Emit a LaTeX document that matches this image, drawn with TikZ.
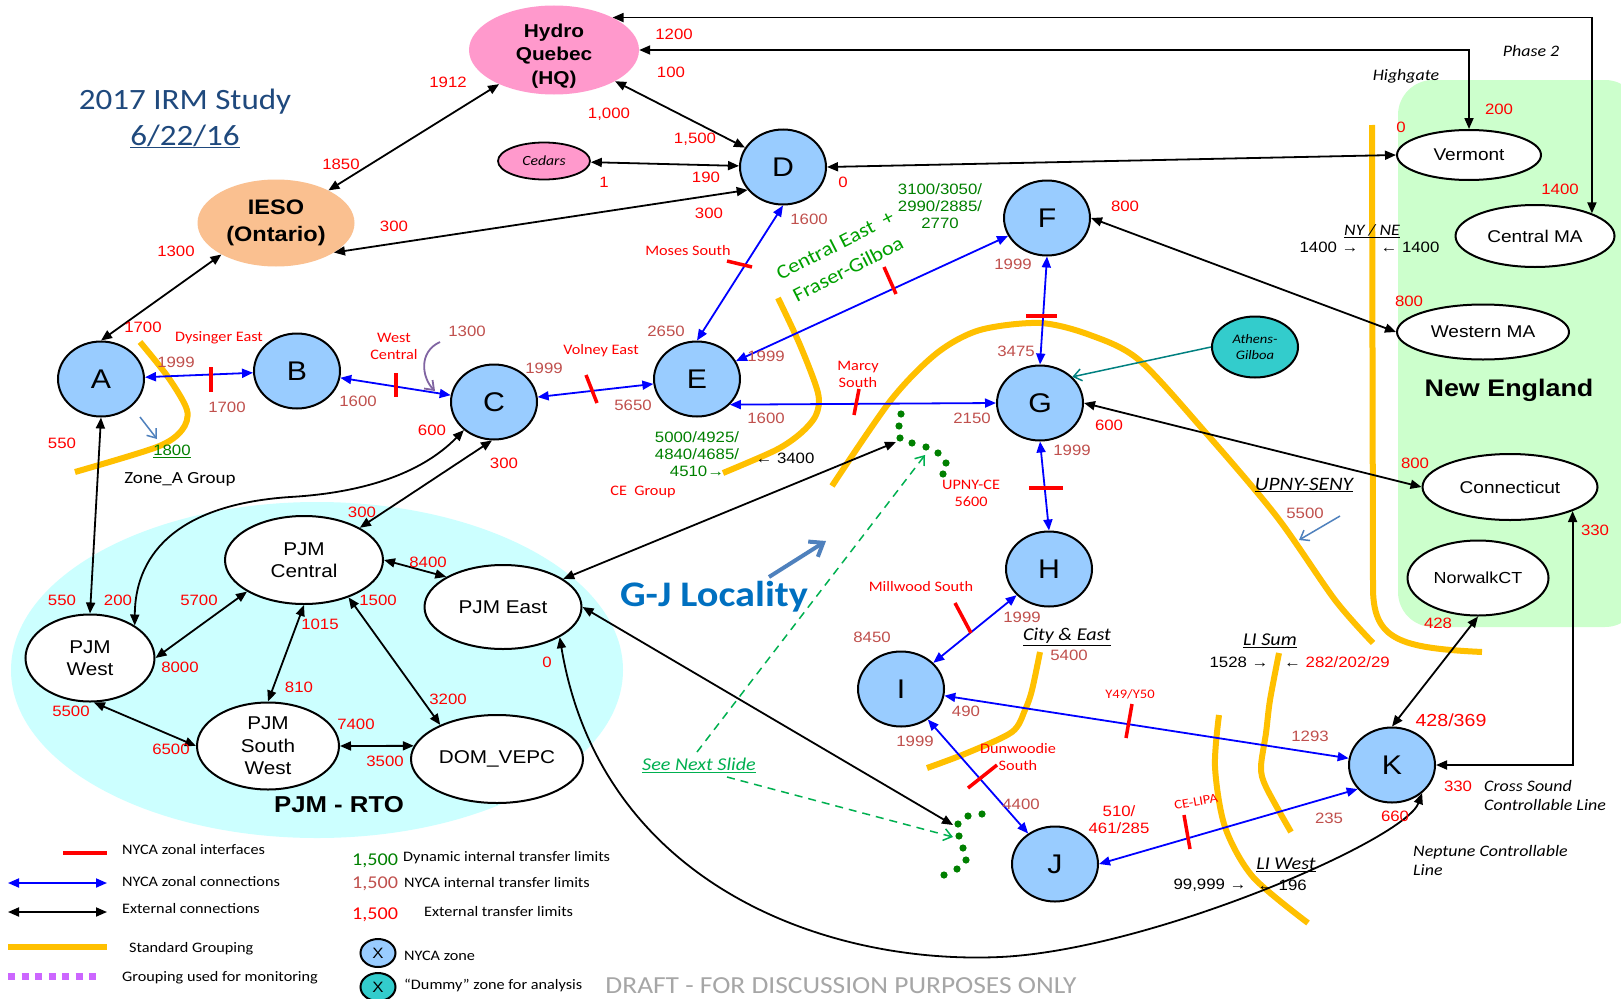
\documentclass[tikz,border=0pt]{standalone}
\usepackage{fontspec}
\setmainfont{Liberation Sans}[FakeStretch=1.12]
\newfontfamily\cfont{Carlito}[FakeStretch=1.12]
\usetikzlibrary{arrows.meta,shapes.geometric}
\definecolor{zoneblue}{HTML}{99CCFF}
\definecolor{hqpink}{HTML}{FF99CC}
\definecolor{peach}{HTML}{FAC090}
\definecolor{teal2}{HTML}{33CCCC}
\definecolor{brown2}{HTML}{C0504D}
\definecolor{ygold}{HTML}{FFC000}
\definecolor{pjmcyan}{HTML}{CCFFFF}
\definecolor{negreen}{HTML}{CCFFCC}
\definecolor{titleblue}{HTML}{1F497D}
\definecolor{gjblue}{HTML}{0070C0}
\definecolor{dgreen}{HTML}{008000}
\definecolor{lgreen}{HTML}{00A000}
\definecolor{slgreen}{HTML}{00B050}
\definecolor{arrowblue}{HTML}{4F81BD}
\definecolor{purp}{HTML}{8064A2}
\definecolor{legpurp}{HTML}{CC66FF}
\definecolor{tealline}{HTML}{008080}
\definecolor{draftgray}{HTML}{A6A6A6}
\newcommand\fs[2]{\fontsize{#1}{#2}\selectfont}
\newcommand\tnode[4]{\node[#1] (#2) at (#3) {#4};}
\begin{document}
\begin{tikzpicture}[x=1pt,y=-1pt,>={Triangle[length=11pt,width=9pt]},
 zone/.style={ellipse, draw=black, line width=2pt, fill=zoneblue, minimum width=86pt, minimum height=75pt, inner sep=0pt, font=\fs{27}{27}},
 extn/.style={ellipse, draw=black, line width=2pt, fill=white, inner sep=0pt, align=center, font=\fs{17}{21}},
 pjmn/.style={extn, font=\fs{18.5}{22.5}},
 rn/.style={inner sep=0pt, text=red, font=\fs{15}{17}, align=center},
 bn/.style={rn, text=brown2},
 gn/.style={rn, text=dgreen},
 bk/.style={rn, text=black},
 rl/.style={inner sep=0pt, text=red, font=\cfont\fs{14.5}{17}, align=center},
 il/.style={inner sep=0pt, font=\cfont\itshape\fs{16}{19}, align=left},
 lg/.style={inner sep=0pt, font=\cfont\fs{14.5}{17}, anchor=west},
 earr/.style={<->, draw=black, line width=1.8pt},
 barr/.style={<->, draw=blue, line width=1.8pt},
 redtick/.style={draw=red, line width=3.5pt},
 ygrp/.style={draw=ygold, line width=6pt},
 barb/.style={-{Straight Barb[length=8pt,width=12pt]}}]
\useasboundingbox (0,0) rectangle (1621,998);
\fill[white] (0,0) rectangle (1621,998);
% backgrounds
\fill[negreen, rounded corners=35pt] (1398,80) rectangle (1640,627);
\fill[pjmcyan] (317,670) ellipse [x radius=306, y radius=168];
% groupings
\draw[ygrp] plot[smooth] coordinates {(140,342) (168,377) (187,410) (182,430) (157,447) (75,472)};
\draw[ygrp] plot[smooth] coordinates {(778,298) (800,345) (818,393) (816,415) (801,433) (776,450) (723,473)};
\draw[ygrp] plot[smooth] coordinates {(832,486) (891,400) (937,353) (980,330) (1040,323) (1090,335) (1139,360) (1206,433) (1277,517) (1335,600) (1373,643)};
\draw[ygrp] (1372,125) -- (1373,590) .. controls (1374,640) and (1400,648) .. (1482,652);
\draw[ygrp] plot[smooth] coordinates {(1040,652) (1032,690) (1025,710) (1012,732) (967,753) (927,768)};
\draw[ygrp] plot[smooth] coordinates {(1279,653) (1270,700) (1266,733) (1261,767) (1266,787) (1291,832)};
\draw[ygrp] plot[smooth] coordinates {(1219,715) (1215,767) (1225,827) (1253,877) (1308,923)};
% green dots
\foreach \p in {(901,414),(899,426),(900,438),(912,443),(926,447),(938,453),(946,463),(943,474),
 (982,814),(968,816),(958,824),(959,836),(963,848),(966,860),(957,869),(944,875)}
 \fill[dgreen] \p circle [radius=3.6];
% nodes
\node[ellipse, fill=hqpink, minimum width=170pt, minimum height=89pt, inner sep=0pt] (HQ) at (554,50) {};
\node[inner sep=0pt, align=center, font=\bfseries\fs{18.6}{23.5}] (HQt) at (554,56) {Hydro\\Quebec\\(HQ)};
\node[ellipse, fill=peach, minimum width=157pt, minimum height=87pt, inner sep=0pt, align=center, font=\bfseries\fs{21}{27}] (IESO) at (276,223) {IESO\\(Ontario)};
\node[ellipse, draw=black, line width=1.8pt, fill=hqpink, minimum width=92pt, minimum height=37pt, inner sep=0pt, font=\cfont\itshape\fs{14}{14}] (Ced) at (544,161) {Cedars};
\node[ellipse, draw=black, line width=2pt, fill=teal2, minimum width=86pt, minimum height=61pt, inner sep=0pt, align=center, font=\cfont\itshape\fs{13}{16}] (Ath) at (1255,347) {Athens-\\Gilboa};
\node[zone] (A) at (101,379) {A};
\node[zone] (B) at (297,371) {B};
\node[zone] (C) at (494,402) {C};
\node[zone] (D) at (783,167) {D};
\node[zone] (E) at (697,379) {E};
\node[zone] (F) at (1047,218) {F};
\node[zone] (G) at (1040,403) {G};
\node[zone] (H) at (1049,569) {H};
\node[zone] (I) at (901,689) {I};
\node[zone] (J) at (1055,864) {J};
\node[zone] (K) at (1392,765) {K};
\node[extn, minimum width=144pt, minimum height=50pt] (Verm) at (1469,155) {Vermont};
\node[extn, minimum width=159pt, minimum height=62pt] (CMA) at (1535,236) {Central MA};
\node[extn, minimum width=172pt, minimum height=55pt] (WMA) at (1483,332) {Western MA};
\node[extn, minimum width=175pt, minimum height=66pt] (Conn) at (1510,487) {Connecticut};
\node[extn, minimum width=141pt, minimum height=75pt, font=\fs{16}{20}] (Nor) at (1478,578) {NorwalkCT};
\node[pjmn, minimum width=158pt, minimum height=88pt] (PJMC) at (304,560) {PJM\\Central};
\node[pjmn, minimum width=157pt, minimum height=84pt] (PJME) at (503,607) {PJM East};
\node[pjmn, minimum width=129pt, minimum height=87pt] (PJMW) at (90,658) {PJM\\West};
\node[pjmn, minimum width=142pt, minimum height=87pt] (PJMSW) at (268,746) {PJM\\South\\West};
\node[pjmn, minimum width=172pt, minimum height=88pt] (DOM) at (497,759) {DOM\_VEPC};
% free-end coordinates
\coordinate (dotN) at (896,442);
\coordinate (dotNg) at (925,455);
\coordinate (dotS) at (953,825);
\coordinate (dotSg) at (953,837);
\coordinate (snsA) at (697,752);
\coordinate (snsB) at (727,777);
\coordinate (pa1) at (440,342);
\coordinate (pa2) at (435,391);
\coordinate (za1) at (140,417);
\coordinate (za2) at (157,439);
\coordinate (us1) at (1340,516);
\coordinate (us2) at (1299,540);
\coordinate (gj1) at (769,577);
\coordinate (gj2) at (826,541);
% external connections
\draw[earr] (HQ) -- (IESO);
\draw[earr] (HQ) -- (D);
\draw[earr] (Ced) -- (D);
\draw[earr] (IESO.-27) -- (D.-147);
\draw[earr] (IESO.-150) -- (A.north);
\draw[earr] (D.east) -- (Verm.west);
\draw[earr] (HQ.29) -| (CMA.north east);
\draw[earr] (HQ.east) -| (Verm.north);
\draw[earr] (F.east) -- (WMA.west);
\draw[earr] (G.east) -- (Conn.west);
\draw[earr] (K.east) -| (Conn.south east);
\draw[earr] (Nor.south) -- (K.north);
\draw[earr] (PJME.-28) .. controls (600,880) and (820,965) .. (1000,957) .. controls (1150,950) and (1405,840) .. (K.-43);
\draw[earr] (PJME.25) -- (dotN);
\draw[earr] (PJME.east) -- (dotS);
\draw[earr] (C.-93) -- (PJMC.30);
\draw[earr] (C.-137) .. controls (420,475) and (360,493) .. (290,497) .. controls (170,505) and (135,560) .. (PJMW.36);
\draw[earr] (A.south) -- (PJMW.north);
\draw[earr] (PJMW.east) -- (PJMC.-151);
\draw[earr] (PJMC.south) -- (PJMSW.north);
\draw[earr] (PJMC.-40) -- (DOM.149);
\draw[earr] (PJMC.east) -- (PJME.152);
\draw[earr] (PJMW.-85) -- (PJMSW.west);
\draw[earr] (PJMSW.east) -- (DOM.171);
% NYCA zonal connections
\draw[barr] (A) -- (B);
\draw[barr] (B) -- (C);
\draw[barr] (C) -- (E);
\draw[barr] (D.south) -- (E.north);
\draw[barr] (E) -- (F);
\draw[barr] (E.-38) -- (G.west);
\draw[barr] (F.south) -- (G.north);
\draw[barr] (G.south) -- (H.north);
\draw[barr] (H) -- (I);
\draw[barr] (I) -- (J);
\draw[barr] (K) -- (I);
\draw[barr] (K.-145) -- (J.east);
% other arrows
\draw[barb, tealline, line width=1.5pt] (Ath.west) -- (G.39);
\draw[barb, purp, line width=1.8pt] (pa1) .. controls (418,352) and (422,378) .. (pa2);
\draw[barb, arrowblue, line width=1.5pt] (za1) -- (za2);
\draw[barb, arrowblue, line width=1.5pt] (us1) -- (us2);
\draw[-{Straight Barb[length=12pt,width=18pt]}, arrowblue, line width=4pt] (gj1) -- (gj2);
\draw[barb, slgreen, line width=1.5pt, dash pattern=on 8pt off 6pt] (snsA) -- (dotNg);
\draw[barb, slgreen, line width=1.5pt, dash pattern=on 8pt off 6pt] (snsB) -- (dotSg);
% interface ticks
\draw[redtick] (211,367) -- (211,392);
\draw[redtick] (396,373) -- (396,397);
\draw[redtick] (586,375) -- (597,403);
\draw[redtick] (727,261) -- (752,267);
\draw[redtick] (884,267) -- (896,294);
\draw[redtick] (859,389) -- (854,415);
\draw[redtick] (1026,316) -- (1057,316);
\draw[redtick] (1029,488) -- (1063,488);
\draw[redtick] (955,603) -- (971,633);
\draw[redtick] (968,788) -- (997,765);
\draw[redtick] (1132,704) -- (1126,738);
\draw[redtick] (1184,815) -- (1190,849);
% red numbers
\tnode{rn}{r1}{448,82}{1912}
\tnode{rn}{r2}{341,164}{1850}
\tnode{rn}{r3}{394,226}{300}
\tnode{rn}{r4}{176,251}{1300}
\tnode{rn}{r5}{143,327}{1700}
\tnode{rn}{r6}{674,34}{1200}
\tnode{rn}{r7}{671,72}{100}
\tnode{rn}{r8}{609,114}{1,000}
\tnode{rn}{r9}{695,139}{1,500}
\tnode{rn}{r10}{604,182}{1}
\tnode{rn}{r11}{706,177}{190}
\tnode{rn}{r12}{709,213}{300}
\tnode{rn}{r13}{843,182}{0}
\tnode{rn}{r14}{1499,109}{200}
\tnode{rn}{r15}{1401,127}{0}
\tnode{rn}{r16}{1560,189}{1400}
\tnode{rn}{r17}{1125,206}{800}
\tnode{rn}{r18}{1409,301}{800}
\tnode{rn}{r19}{1109,425}{600}
\tnode{rn}{r20}{1415,463}{800}
\tnode{rn}{r21}{1595,530}{330}
\tnode{rn}{r22}{1438,623}{428}
\node[rn, font=\fs{17.5}{20}] (r23) at (1451,720) {428/369};
\tnode{rn}{r24}{1458,786}{330}
\tnode{rn}{r25}{1395,816}{660}
\tnode{rn}{r26}{62,443}{550}
\tnode{rn}{r27}{62,600}{550}
\tnode{rn}{r28}{118,600}{200}
\tnode{rn}{r29}{432,430}{600}
\tnode{rn}{r30}{504,463}{300}
\tnode{rn}{r31}{362,512}{300}
\tnode{rn}{r32}{428,562}{8400}
\tnode{rn}{r33}{199,600}{5700}
\tnode{rn}{r34}{378,600}{1500}
\tnode{rn}{r35}{320,624}{1015}
\tnode{rn}{r36}{180,667}{8000}
\tnode{rn}{r37}{299,687}{810}
\tnode{rn}{r38}{71,711}{5500}
\tnode{rn}{r39}{171,749}{6500}
\tnode{rn}{r40}{356,724}{7400}
\tnode{rn}{r41}{448,699}{3200}
\tnode{rn}{r42}{385,761}{3500}
\tnode{rn}{r43}{547,662}{0}
\tnode{rn}{r44}{1119,820}{510/\\461/285}
% brown numbers
\tnode{bn}{b1}{176,362}{1999}
\tnode{bn}{b2}{227,407}{1700}
\tnode{bn}{b3}{467,331}{1300}
\tnode{bn}{b4}{358,401}{1600}
\tnode{bn}{b5}{544,368}{1999}
\tnode{bn}{b6}{666,331}{2650}
\tnode{bn}{b7}{633,405}{5650}
\tnode{bn}{b8}{766,356}{1999}
\tnode{bn}{b9}{766,418}{1600}
\tnode{bn}{b10}{809,219}{1600}
\tnode{bn}{b11}{1013,264}{1999}
\tnode{bn}{b12}{1016,351}{3475}
\tnode{bn}{b13}{972,418}{2150}
\tnode{bn}{b14}{1072,450}{1999}
\tnode{bn}{b15}{1022,617}{1999}
\tnode{bn}{b16}{872,637}{8450}
\tnode{bn}{b17}{966,711}{490}
\tnode{bn}{b18}{915,741}{1999}
\tnode{bn}{b19}{1021,804}{4400}
\tnode{bn}{b20}{1069,655}{5400}
\tnode{bn}{b21}{1305,513}{5500}
\tnode{bn}{b22}{1310,736}{1293}
\tnode{bn}{b23}{1329,818}{235}
% green numbers
\tnode{gn}{g1}{172,451}{\underline{1800}}
\tnode{gn}{g2}{697,454}{5000/4925/\\4840/4685/\\4510→}
\tnode{gn}{g3}{940,206}{3100/3050/\\2990/2885/\\2770}
\node[rotate=27, text=lgreen, inner sep=0pt, font=\cfont\fs{20}{24}] (ce1) at (835,245) {Central East~~+};
\node[rotate=27, text=lgreen, inner sep=0pt, font=\cfont\fs{20}{24}] (ce2) at (848,269) {Fraser-Gilboa};
% black numbers
\tnode{bk}{k1}{785,458}{← 3400}
\tnode{bk}{k2}{1329,247}{1400 →}
\tnode{bk}{k3}{1410,247}{← 1400}
\tnode{bk}{k4}{1239,662}{1528 →}
\node[bk, anchor=west] (k5) at (1284,662) {← \textcolor{red}{282/202/29}};
\tnode{bk}{k6}{1210,885}{99,999 →}
\tnode{bk}{k7}{1282,885}{← 196}
% red interface labels
\tnode{rl}{l1}{219,338}{Dysinger East}
\tnode{rl}{l2}{394,346}{West\\Central}
\tnode{rl}{l3}{601,351}{Volney East}
\tnode{rl}{l4}{688,251}{Moses South}
\tnode{rl}{l5}{858,374}{Marcy\\South}
\tnode{rl}{l6}{643,492}{CE~~Group}
\tnode{rl}{l7}{971,493}{UPNY-CE\\5600}
\tnode{rl}{l8}{921,587}{Millwood South}
\tnode{rl}{l9}{1018,757}{Dunwoodie\\South}
\node[rl, font=\cfont\fs{13}{15}] (l10) at (1130,694) {Y49/Y50};
\node[rl, font=\cfont\fs{13}{15}, rotate=10] (l11) at (1196,802) {CE-LIPA};
% italic labels
\tnode{il}{i1}{1531,51}{Phase 2}
\tnode{il}{i2}{1406,76}{Highgate}
\tnode{il}{i3}{1372,231}{\underline{NY / NE}}
\node[il, font=\cfont\itshape\fs{19}{22}] (i4) at (1304,485) {\underline{UPNY-SENY}};
\node[il, font=\cfont\itshape\fs{18}{21}] (i5) at (1067,637) {\underline{City \& East}};
\node[il, font=\cfont\itshape\fs{18}{21}] (i6) at (1270,641) {\underline{LI Sum}};
\node[il, font=\cfont\itshape\fs{18}{21}] (i7) at (1286,865) {\underline{LI West}};
\node[il, font=\cfont\itshape\fs{18}{21}, text=slgreen] (i8) at (699,765) {\underline{See Next Slide}};
\node[il, anchor=west] (i9) at (1484,795) {Cross Sound\\Controllable Line};
\node[il, anchor=west] (i10) at (1413,860) {Neptune Controllable\\Line};
\node[inner sep=0pt, font=\cfont\fs{17}{20}] (zag) at (180,479) {Zone\_A Group};
% titles
\node[inner sep=0pt, anchor=base, text=titleblue, font=\cfont\fs{29.5}{34}] (title) at (185,109) {2017 IRM Study};
\node[inner sep=0pt, anchor=base, text=titleblue, font=\cfont\fs{29.5}{34}] (date) at (185,145) {\underline{6/22/16}};
\node[inner sep=0pt, text=gjblue, font=\cfont\bfseries\fs{36}{40}] (gjl) at (714,597) {G-J Locality};
\node[inner sep=0pt, font=\bfseries\fs{24}{28}] (ne) at (1509,390) {New England};
\node[inner sep=0pt, font=\bfseries\fs{23}{27}] (rto) at (339,805) {PJM - RTO};
% legend
\coordinate (lr1) at (63,853); \coordinate (lr2) at (107,853);
\coordinate (lb1) at (8,883); \coordinate (lb2) at (107,883);
\coordinate (lk1) at (8,912); \coordinate (lk2) at (107,912);
\coordinate (ly1) at (8,947); \coordinate (ly2) at (107,947);
\coordinate (lp1) at (8,976); \coordinate (lp2) at (102,976);
\draw[red, line width=4pt] (lr1) -- (lr2);
\draw[barr] (lb1) -- (lb2);
\draw[earr] (lk1) -- (lk2);
\draw[ygrp] (ly1) -- (ly2);
\draw[legpurp, line width=7pt, dash pattern=on 7pt off 6.5pt] (lp1) -- (lp2);
\node[lg] (t1) at (122,850) {NYCA zonal interfaces};
\node[lg] (t2) at (122,882) {NYCA zonal connections};
\node[lg] (t3) at (122,909) {External connections};
\node[lg] (t4) at (129,949) {Standard Grouping};
\node[lg] (t5) at (122,978) {Grouping used for monitoring};
\node[lg, text=dgreen, font=\cfont\fs{18}{20}] (t6) at (352,861) {1,500};
\node[lg] (t7) at (403,858) {Dynamic internal transfer limits};
\node[lg, text=brown2, font=\cfont\fs{18}{20}] (t8) at (352,884) {1,500};
\node[lg] (t9) at (404,883) {NYCA internal transfer limits};
\node[lg, text=red, font=\cfont\fs{18}{20}] (t10) at (352,915) {1,500};
\node[lg] (t11) at (424,912) {External transfer limits};
\node[zone, minimum width=35pt, minimum height=28pt, font=\fs{15}{15}] (lz1) at (378,953) {X};
\node[zone, fill=teal2, minimum width=35pt, minimum height=28pt, font=\fs{15}{15}] (lz2) at (378,987) {X};
\node[lg] (t12) at (404,956) {NYCA zone};
\node[lg] (t13) at (404,985) {“Dummy” zone for analysis};
\node[inner sep=0pt, text=draftgray, font=\cfont\fs{24.5}{27}] (draft) at (841,986) {DRAFT - FOR DISCUSSION PURPOSES ONLY};
\end{tikzpicture}
\end{document}
